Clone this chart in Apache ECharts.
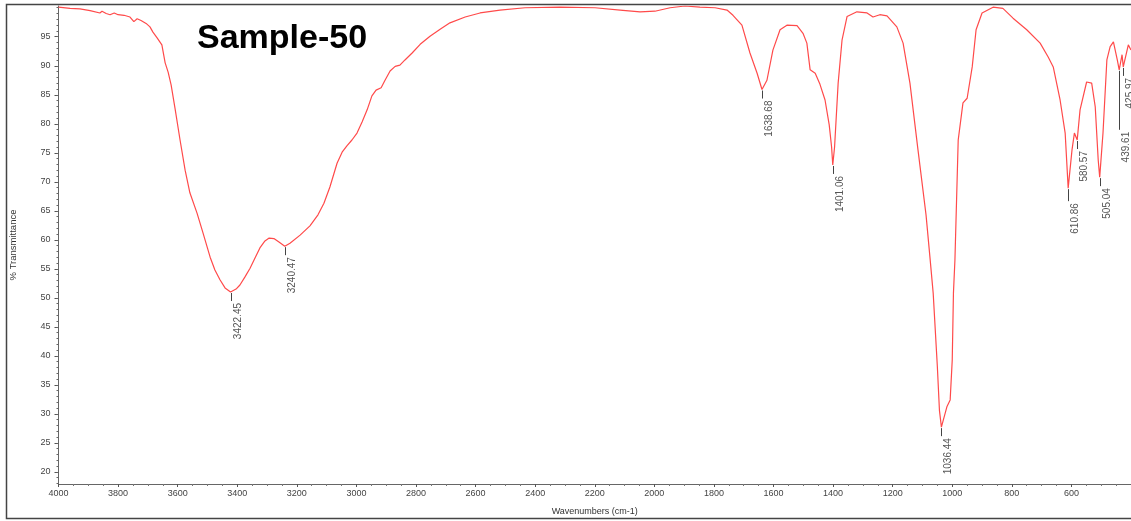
<!DOCTYPE html>
<html>
<head>
<meta charset="utf-8">
<script src="https://cdn.jsdelivr.net/npm/echarts@6/dist/echarts.min.js"></script>
<style>
html, body { margin: 0; padding: 0; background: #fff; }
#main { width: 1131px; height: 521px; }
</style>
</head>
<body>
<div id="main"></div>
<script>
// spectrum (cm-1 / %T)
const wavenumbers = [
  4000, 3961, 3928, 3894, 3861, 3854, 3840, 3827, 3813, 3800,
  3780, 3760, 3747, 3736, 3723, 3706, 3693, 3683, 3669, 3653,
  3642, 3632, 3622, 3609, 3592, 3575, 3559, 3535, 3515, 3491,
  3475, 3458, 3441, 3422.45, 3404, 3391, 3374, 3357, 3340, 3324,
  3307, 3293, 3277, 3260, 3240.47, 3223, 3189, 3156, 3129, 3109,
  3089, 3065, 3048, 3032, 3015, 2998, 2981, 2964, 2948, 2934,
  2917, 2904, 2887, 2870, 2854, 2837, 2813, 2786, 2753, 2719,
  2686, 2635, 2585, 2518, 2434, 2317, 2199, 2115, 2048, 1998,
  1947, 1897, 1847, 1796, 1756, 1736, 1706, 1679, 1655, 1638.68,
  1622, 1602, 1578, 1555, 1521, 1501, 1488, 1477, 1460, 1444,
  1427, 1413, 1405, 1401.06, 1395, 1383, 1370, 1353, 1320, 1286,
  1266, 1243, 1219, 1186, 1165, 1142, 1115, 1088, 1074, 1064,
  1050, 1043, 1036.44, 1018, 1007, 1000, 996, 991, 980, 964,
  950, 933, 920, 900, 863, 830, 796, 750, 705, 678,
  661, 638, 621, 610.86, 598, 590, 580.57, 571, 549, 532,
  520, 510, 505.04, 494, 481, 470, 459, 446, 439.61, 430,
  425.97, 409, 400
];
const transmittance = [
  100.1, 99.9, 99.8, 99.5, 99.1, 99.4, 99.0, 98.8, 99.1, 98.8,
  98.7, 98.4, 97.6, 98.1, 97.8, 97.3, 96.7, 95.8, 94.8, 93.6,
  90.5, 88.9, 86.7, 82.7, 77.2, 72.0, 68.1, 64.6, 61.2, 57.0,
  54.8, 53.1, 51.7, 51.0, 51.5, 52.2, 53.6, 55.1, 56.9, 58.6,
  59.8, 60.3, 60.2, 59.6, 58.9, 59.4, 60.8, 62.4, 64.3, 66.3,
  69.1, 73.2, 75.1, 76.2, 77.2, 78.4, 80.3, 82.4, 84.8, 85.8,
  86.2, 87.5, 89.1, 89.9, 90.1, 91.0, 92.2, 93.7, 95.1, 96.3,
  97.4, 98.4, 99.1, 99.6, 100.0, 100.1, 100.0, 99.6, 99.3, 99.4,
  100.0, 100.3, 100.1, 100.0, 99.6, 98.7, 97.0, 92.2, 88.7, 85.9,
  87.5, 92.7, 96.2, 97.0, 96.9, 95.6, 93.9, 89.3, 88.7, 86.8,
  84.1, 79.8, 76.0, 72.9, 76.0, 87.0, 94.4, 98.5, 99.3, 99.1,
  98.4, 98.8, 98.6, 96.7, 93.9, 87.0, 75.5, 64.3, 56.5, 50.8,
  38.1, 30.6, 27.7, 31.2, 32.4, 39.3, 50.8, 56.5, 77.2, 83.6,
  84.4, 89.8, 96.2, 99.1, 100.1, 99.9, 98.2, 96.2, 93.9, 91.5,
  89.8, 84.1, 78.4, 68.9, 75.5, 78.4, 77.2, 82.4, 87.2, 87.0,
  82.9, 73.7, 70.8, 78.4, 91.0, 93.3, 94.1, 91.0, 89.3, 91.9,
  89.8, 93.6, 92.7
];

// labelled peaks
const peakWavenumbers = [3422.45, 3240.47, 1638.68, 1401.06, 1036.44, 610.86, 580.57, 505.04, 439.61, 425.97];
const peakTransmittance = [51.0, 58.9, 85.9, 72.9, 27.7, 68.9, 77.2, 70.8, 89.3, 89.8];

const yTickValues = [20, 25, 30, 35, 40, 45, 50, 55, 60, 65, 70, 75, 80, 85, 90, 95];

// small ticks on the y axis, one per %T
const yMinorTicks = [];
for (let v = 18; v <= 100; v++) yMinorTicks.push(v);

// longer leader lines where the labels would collide
const leaderLen = { '439.61': 60, '610.86': 13 };

const FONT = '"Liberation Sans", Arial, sans-serif';

function renderPeak(params, api) {
  const w = api.value(0);
  const p = api.coord([w, api.value(1)]);
  const len = leaderLen[w.toFixed(2)] || 9;
  const x = Math.round(p[0]) + 0.5;
  return {
    type: 'group',
    children: [
      {
        type: 'line',
        shape: { x1: x, y1: p[1] + 1, x2: x, y2: p[1] + len },
        style: { stroke: '#444', lineWidth: 1 }
      },
      {
        type: 'text',
        x: x + 1.5,
        y: p[1] + len + 2,
        rotation: Math.PI / 2,
        style: {
          text: w.toFixed(2),
          fill: '#555',
          font: '10px ' + FONT,
          align: 'right',
          verticalAlign: 'top'
        }
      }
    ]
  };
}

const chart = echarts.init(document.getElementById('main'));

const option = {
  animation: false,
  textStyle: { fontFamily: FONT },
  grid: { left: 58.5, right: 0, top: 6, bottom: 37, containLabel: false, outerBoundsMode: 'none' },
  xAxis: {
    type: 'value',
    inverse: true,
    min: 400,
    max: 4000,
    interval: 200,
    name: 'Wavenumbers (cm-1)',
    nameLocation: 'middle',
    nameGap: 23,
    nameTextStyle: { fontSize: 9, color: '#333' },
    axisLine: { show: true, lineStyle: { color: '#666', width: 1 } },
    axisTick: { show: true, length: 3, lineStyle: { color: '#555' } },
    minorTick: { show: true, splitNumber: 4, length: 2, lineStyle: { color: '#777' } },
    axisLabel: {
      fontSize: 9,
      color: '#444',
      margin: 5,
      showMinLabel: false,
      formatter: v => String(v)
    },
    splitLine: { show: false }
  },
  yAxis: [
    {
      type: 'value',
      min: 17.9,
      max: 100.3,
      name: '% Transmittance',
      nameLocation: 'middle',
      nameGap: 40,
      nameTextStyle: { fontSize: 9.5, color: '#333' },
      axisLine: { show: true, lineStyle: { color: '#666', width: 1 } },
      axisTick: { show: true, customValues: yTickValues, length: 4, lineStyle: { color: '#555' } },
      axisLabel: { customValues: yTickValues, fontSize: 9, color: '#444', margin: 8, formatter: v => String(v) },
      splitLine: { show: false }
    },
    {
      type: 'value',
      min: 17.9,
      max: 100.3,
      position: 'left',
      axisLine: { show: false },
      axisTick: { show: true, customValues: yMinorTicks, length: 2, lineStyle: { color: '#666' } },
      axisLabel: { show: false },
      splitLine: { show: false }
    }
  ],
  series: [
    {
      type: 'line',
      data: wavenumbers.map((w, i) => [w, transmittance[i]]),
      symbol: 'none',
      lineStyle: { color: '#ff4a4a', width: 1.2 },
      z: 3
    },
    {
      type: 'custom',
      data: peakWavenumbers.map((w, i) => [w, peakTransmittance[i]]),
      renderItem: renderPeak,
      z: 4
    }
  ],
  graphic: [
    {
      type: 'rect',
      silent: true,
      z: 100,
      shape: { x: 6.5, y: 4.5, width: 1200, height: 514 },
      style: { fill: 'none', stroke: '#444', lineWidth: 1.5 }
    },
    {
      type: 'text',
      silent: true,
      x: 197,
      y: 39,
      style: {
        text: 'Sample-50',
        font: 'bold 34px ' + FONT,
        fill: '#000',
        verticalAlign: 'middle'
      }
    }
  ]
};

chart.setOption(option);
</script>
</body>
</html>
